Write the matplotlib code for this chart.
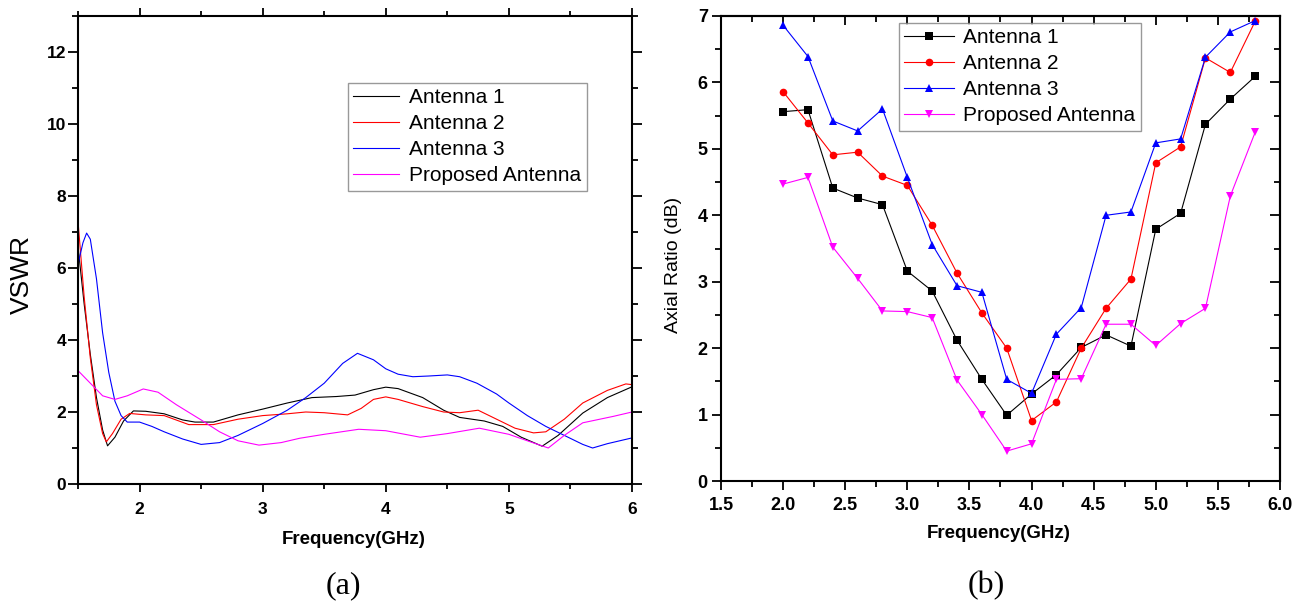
import matplotlib
matplotlib.use('Agg')
import matplotlib.pyplot as plt
from matplotlib.ticker import MultipleLocator, FormatStrFormatter

plt.rcParams['font.family'] = ['Liberation Sans', 'DejaVu Sans']

# ---------------- data ----------------
series_names = ["Antenna 1", "Antenna 2", "Antenna 3", "Proposed Antenna"]
colors = ["#000000", "#ff0000", "#0000ff", "#ff00ff"]
markers = ["s", "o", "^", "v"]

# (a) VSWR vs frequency (GHz)
vswr_f_ant1 = [1.5, 1.55, 1.6, 1.65, 1.7, 1.74, 1.8, 1.87, 1.95, 2.05, 2.2, 2.35, 2.45, 2.6,
               2.8, 3.0, 3.2, 3.4, 3.6, 3.75, 3.9, 4.0, 4.1, 4.3, 4.47, 4.6, 4.8, 4.95,
               5.1, 5.27, 5.4, 5.6, 5.8, 6.0]
vswr_ant1 = [6.6, 5.0, 3.6, 2.4, 1.5, 1.06, 1.3, 1.75, 2.03, 2.02, 1.95, 1.78, 1.72, 1.72,
             1.92, 2.08, 2.25, 2.4, 2.43, 2.47, 2.62, 2.69, 2.65, 2.4, 2.05, 1.85, 1.75, 1.6,
             1.3, 1.05, 1.35, 1.97, 2.4, 2.7]

vswr_f_ant2 = [1.5, 1.55, 1.6, 1.65, 1.7, 1.73, 1.78, 1.85, 1.92, 2.05, 2.2, 2.4, 2.6, 2.8,
               3.0, 3.2, 3.35, 3.5, 3.69, 3.8, 3.9, 4.0, 4.1, 4.3, 4.47, 4.6, 4.75, 4.9,
               5.05, 5.2, 5.3, 5.45, 5.6, 5.8, 5.95, 6.0]
vswr_ant2 = [7.3, 5.2, 3.5, 2.2, 1.4, 1.17, 1.4, 1.8, 1.96, 1.92, 1.9, 1.65, 1.65, 1.8,
             1.9, 1.95, 2.0, 1.98, 1.92, 2.1, 2.35, 2.42, 2.35, 2.15, 2.0, 1.98, 2.05, 1.8,
             1.55, 1.42, 1.45, 1.8, 2.25, 2.6, 2.78, 2.76]

vswr_f_ant3 = [1.5, 1.54, 1.57, 1.6, 1.65, 1.7, 1.75, 1.8, 1.85, 1.9, 2.0, 2.1, 2.2, 2.35,
               2.5, 2.65, 2.8, 3.0, 3.2, 3.35, 3.5, 3.65, 3.77, 3.9, 4.0, 4.1, 4.22, 4.35,
               4.5, 4.6, 4.74, 4.9, 5.0, 5.15, 5.3, 5.48, 5.6, 5.68, 5.8, 6.0]
vswr_ant3 = [6.1, 6.7, 6.97, 6.8, 5.7, 4.2, 3.1, 2.3, 1.9, 1.72, 1.72, 1.6, 1.45, 1.25,
             1.1, 1.15, 1.35, 1.68, 2.05, 2.4, 2.8, 3.35, 3.63, 3.45, 3.2, 3.05, 2.98, 3.0,
             3.03, 2.98, 2.8, 2.5, 2.25, 1.9, 1.6, 1.3, 1.1, 1.0, 1.12, 1.28]

vswr_f_prop = [1.5, 1.6, 1.7, 1.8, 1.9, 2.03, 2.15, 2.3, 2.5, 2.65, 2.8, 2.97, 3.15, 3.3,
               3.5, 3.78, 4.0, 4.28, 4.5, 4.76, 5.0, 5.15, 5.32, 5.45, 5.6, 5.85, 6.0]
vswr_prop = [3.15, 2.8, 2.45, 2.35, 2.45, 2.64, 2.55, 2.2, 1.78, 1.45, 1.2, 1.08, 1.15, 1.27,
             1.38, 1.52, 1.48, 1.3, 1.4, 1.55, 1.38, 1.2, 1.0, 1.35, 1.7, 1.88, 2.0]

# (b) Axial ratio (dB) vs frequency (GHz)
ar_freq = [2.0, 2.2, 2.4, 2.6, 2.8, 3.0, 3.2, 3.4, 3.6, 3.8,
           4.0, 4.2, 4.4, 4.6, 4.8, 5.0, 5.2, 5.4, 5.6, 5.8]
ar_ant1 = [5.56, 5.59, 4.41, 4.26, 4.16, 3.16, 2.86, 2.12, 1.53, 0.99,
           1.31, 1.6, 2.01, 2.2, 2.03, 3.79, 4.03, 5.37, 5.75, 6.09]
ar_ant2 = [5.86, 5.39, 4.91, 4.95, 4.59, 4.45, 3.85, 3.13, 2.53, 2.0,
           0.91, 1.19, 2.0, 2.6, 3.04, 4.79, 5.03, 6.37, 6.15, 6.92]
ar_ant3 = [6.86, 6.39, 5.42, 5.27, 5.6, 4.57, 3.56, 2.94, 2.84, 1.53,
           1.32, 2.21, 2.61, 4.0, 4.05, 5.09, 5.15, 6.38, 6.76, 6.93]
ar_prop = [4.47, 4.57, 3.52, 3.05, 2.56, 2.55, 2.46, 1.52, 1.0, 0.45,
           0.56, 1.53, 1.54, 2.36, 2.36, 2.04, 2.37, 2.6, 4.29, 5.25]

# ---------------- figure ----------------
W, H, DPI = 1298, 607, 100
fig = plt.figure(figsize=(W / DPI, H / DPI), dpi=DPI)


def px_axes(x0, y0, x1, y1):
    return fig.add_axes([x0 / W, 1 - y1 / H, (x1 - x0) / W, (y1 - y0) / H])


# ---- panel (a) ----
ax1 = px_axes(78, 16, 632, 484)
vswr_f = [vswr_f_ant1, vswr_f_ant2, vswr_f_ant3, vswr_f_prop]
vswr_v = [vswr_ant1, vswr_ant2, vswr_ant3, vswr_prop]
for f, v, c, n in zip(vswr_f, vswr_v, colors, series_names):
    ax1.plot(f, v, color=c, lw=0.8, label=n)
ax1.set_xlim(1.5, 6.0)
ax1.set_ylim(0, 13)
ax1.xaxis.set_major_locator(MultipleLocator(1))
ax1.xaxis.set_minor_locator(MultipleLocator(0.5))
ax1.yaxis.set_major_locator(MultipleLocator(2))
ax1.yaxis.set_minor_locator(MultipleLocator(1))
for s in ax1.spines.values():
    s.set_linewidth(1.5)
ax1.tick_params(which='both', direction='out', top=True, right=True,
                labeltop=False, labelright=False, width=1.3)
ax1.tick_params(axis='y', which='major', length=7, pad=1.5)
ax1.tick_params(axis='y', which='minor', length=4)
ax1.tick_params(axis='x', which='major', length=6, pad=7)
ax1.tick_params(axis='x', which='minor', length=3.5)
for lab in ax1.get_xticklabels() + ax1.get_yticklabels():
    lab.set_fontweight('bold')
    lab.set_fontsize(12.5)
leg1 = ax1.legend(loc='upper left', bbox_to_anchor=(0.487, 0.857), borderaxespad=0,
                  fontsize=15, frameon=True, fancybox=False, edgecolor='#808080',
                  handlelength=2.2, handletextpad=0.5, labelspacing=0.34, borderpad=0.25)
leg1.get_frame().set_linewidth(1.0)
fig.text(22 / W, 1 - 274 / H, "VSWR", rotation=90, ha='center', va='center', fontsize=19)
fig.text(354 / W, 1 - 540 / H, "Frequency(GHz)", ha='center', va='center',
         fontsize=13.5, fontweight='bold')
fig.text(343 / W, 1 - 586 / H, "(a)", ha='center', va='center', fontsize=23,
         family=['Liberation Serif', 'DejaVu Serif'])

# ---- panel (b) ----
ax2 = px_axes(721, 16, 1280, 481)
ar_vals = [ar_ant1, ar_ant2, ar_ant3, ar_prop]
for v, c, m, n in zip(ar_vals, colors, markers, series_names):
    ax2.plot(ar_freq, v, color=c, lw=0.8, marker=m, markersize=5.5,
             markeredgewidth=0, label=n)
ax2.set_xlim(1.5, 6.0)
ax2.set_ylim(0, 7)
ax2.xaxis.set_major_locator(MultipleLocator(0.5))
ax2.xaxis.set_minor_locator(MultipleLocator(0.25))
ax2.xaxis.set_major_formatter(FormatStrFormatter('%.1f'))
ax2.yaxis.set_major_locator(MultipleLocator(1))
ax2.yaxis.set_minor_locator(MultipleLocator(0.5))
for s in ax2.spines.values():
    s.set_linewidth(1.5)
ax2.tick_params(which='both', direction='out', width=1.3)
ax2.tick_params(which='major', length=6.5)
ax2.tick_params(which='minor', length=4)
ax2.tick_params(axis='x', which='major', pad=5)
ax2.tick_params(axis='y', which='major', pad=3)
for lab in ax2.get_xticklabels() + ax2.get_yticklabels():
    lab.set_fontweight('bold')
    lab.set_fontsize(13)

# inward ticks on top and right
top = ax2.secondary_xaxis('top')
top.xaxis.set_major_locator(MultipleLocator(0.5))
top.xaxis.set_minor_locator(MultipleLocator(0.25))
top.tick_params(which='both', direction='in', labeltop=False, width=1.3)
top.tick_params(which='major', length=6.5)
top.tick_params(which='minor', length=4)
top.spines['top'].set_linewidth(1.5)
right = ax2.secondary_yaxis('right')
right.yaxis.set_major_locator(MultipleLocator(1))
right.yaxis.set_minor_locator(MultipleLocator(0.5))
right.tick_params(which='both', direction='in', labelright=False, width=1.3)
right.tick_params(which='major', length=7)
right.tick_params(which='minor', length=4)
right.spines['right'].set_linewidth(1.5)

leg2 = ax2.legend(loc='upper left', bbox_to_anchor=(0.318, 0.985), borderaxespad=0,
                  fontsize=15, frameon=True, fancybox=False, edgecolor='#808080',
                  handlelength=2.4, handletextpad=0.45, labelspacing=0.34, borderpad=0.25)
leg2.get_frame().set_linewidth(1.0)
fig.text(674 / W, 1 - 265 / H, "Axial Ratio (dB)", rotation=90, ha='center', va='center',
         fontsize=14)
fig.text(999 / W, 1 - 534 / H, "Frequency(GHz)", ha='center', va='center',
         fontsize=13.5, fontweight='bold')
fig.text(986 / W, 1 - 586 / H, "(b)", ha='center', va='center', fontsize=23,
         family=['Liberation Serif', 'DejaVu Serif'])

fig.savefig('out.png', dpi=DPI)
